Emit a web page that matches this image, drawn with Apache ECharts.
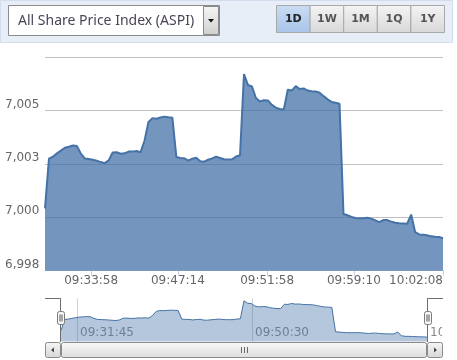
<!DOCTYPE html>
<html><head><meta charset="utf-8">
<script src="https://cdn.jsdelivr.net/npm/echarts@6/dist/echarts.min.js"></script>
<style>html,body{margin:0;padding:0;background:#fff}#c{width:457px;height:360px}</style>
</head><body><div id="c"></div>
<script>
// ---- data (ordinal points, equally spaced) ----
const aspiValues = [
  7000.72, 7003.05, 7003.14, 7003.30, 7003.43, 7003.56, 7003.61, 7003.67, 7003.64, 7003.29,
  7003.06, 7003.03, 7003.00, 7002.95, 7002.89, 7002.84, 7002.97, 7003.34, 7003.35, 7003.28,
  7003.30, 7003.38, 7003.38, 7003.41, 7003.35, 7003.89, 7004.77, 7004.95, 7004.92, 7004.98,
  7005.02, 7004.99, 7004.97, 7003.13, 7003.08, 7003.07, 7002.96, 7003.05, 7003.09, 7002.93,
  7002.91, 7003.00, 7003.06, 7003.14, 7003.08, 7003.02, 7003.01, 7003.02, 7003.15, 7003.21,
  7007.01, 7006.50, 7006.43, 7005.89, 7005.73, 7005.79, 7005.78, 7005.57, 7005.44, 7005.38,
  7005.35, 7006.28, 7006.24, 7006.45, 7006.31, 7006.34, 7006.24, 7006.21, 7006.20, 7006.14,
  7005.98, 7005.83, 7005.71, 7005.67, 7005.62, 7000.46, 7000.40, 7000.32, 7000.27, 7000.26,
  7000.26, 7000.28, 7000.24, 7000.16, 7000.08, 7000.17, 7000.17, 7000.10, 7000.05, 7000.02,
  7000.01, 7000.00, 7000.43, 6999.61, 6999.50, 6999.49, 6999.46, 6999.41, 6999.39, 6999.38,
  6999.32
];
const mainTickPos = [11.6, 33.4, 55.8, 77.6, 100];
const mainTickLabels = ['09:33:58', '09:47:14', '09:51:58', '09:59:10', '10:02:08'];
const navTickPos = [4.4, 52.2, 100];
const navTickLabels = ['09:31:45', '09:50:30', '10:02:08'];
const yMin = 6997.8, yMax = 7007.8, yStep = 2.5;
const navYMin = 6998.4, navYMax = 7007.5;
const selectorTitle = 'All Share Price Index (ASPI)';
const rangeButtons = ['1D', '1W', '1M', '1Q', '1Y'];
const activeRange = '1D';

// ---- helpers ----
const seriesData = aspiValues.map((v, i) => [i, v]);
const lastIdx = aspiValues.length - 1;
function labelAt(pos, labels) {
  return function (v) {
    for (let k = 0; k < pos.length; k++) if (Math.abs(pos[k] - v) < 0.01) return labels[k];
    return '';
  };
}
function fmtNum(v) {
  return String(Math.round(v)).replace(/\B(?=(\d{3})+(?!\d))/g, ',');
}
const FONT = 'DejaVu Sans';
const grad = (a, b) => ({type: 'linear', x: 0, y: 0, x2: 0, y2: 1, colorStops: [{offset: 0, color: a}, {offset: 1, color: b}]});

// ---- chrome (UI, not data) ----
const g = [];
g.push({type: 'rect', z: 50, shape: {x: 0.5, y: 0.5, width: 452, height: 42}, style: {fill: '#e8eef7', stroke: '#d3dded'}});
g.push({type: 'rect', z: 51, shape: {x: 8.5, y: 5.5, width: 211, height: 30}, style: {fill: '#fff', stroke: '#8c8c8c'}});
g.push({type: 'text', z: 52, style: {x: 18, y: 21, text: selectorTitle, fill: '#4b4457', font: '14px "Noto Sans"', verticalAlign: 'middle'}});
g.push({type: 'rect', z: 52, shape: {x: 203.5, y: 6.5, width: 15, height: 28}, style: {fill: grad('#f6f6f6', '#cfcfcf'), stroke: '#8a8a8a'}});
g.push({type: 'polygon', z: 53, shape: {points: [[208, 19], [214, 19], [211, 22.5]]}, style: {fill: '#111'}});
const bx0 = 276, bw = 33.6;
rangeButtons.forEach((b, k) => {
  const act = b === activeRange;
  g.push({type: 'rect', z: 51, shape: {x: bx0 + k * bw + 0.5, y: 5.5, width: bw, height: 27},
    style: {fill: act ? grad('#cadcf3', '#a8c4e9') : grad('#f4f4f4', '#d8d8d8'), stroke: '#a9a9a9'}});
  g.push({type: 'text', z: 52, style: {x: bx0 + k * bw + bw / 2 + 0.5, y: 19.5, text: b, fill: act ? '#222' : '#555',
    font: 'bold 11px "DejaVu Sans"', align: 'center', verticalAlign: 'middle'}});
});
// navigator outline, handles
g.push({type: 'polyline', z: 60, shape: {points: [[45, 298.5], [60.5, 298.5], [60.5, 342]]}, style: {stroke: '#6e6e6e', lineWidth: 1, fill: null}});
g.push({type: 'polyline', z: 60, shape: {points: [[427.5, 342], [427.5, 298.5], [443, 298.5]]}, style: {stroke: '#6e6e6e', lineWidth: 1, fill: null}});
// cover for clipped navigator label
g.push({type: 'rect', z: 59, shape: {x: 442, y: 300, width: 20, height: 41}, style: {fill: '#fff'}});
[57, 424].forEach(hx => {
  g.push({type: 'rect', z: 61, shape: {x: hx + 0.5, y: 311.5, width: 7, height: 13, r: 2}, style: {fill: '#f6f6f6', stroke: '#7a7a7a'}});
  g.push({type: 'line', z: 62, shape: {x1: hx + 3, y1: 314.5, x2: hx + 3, y2: 321.5}, style: {stroke: '#555', lineWidth: 1}});
  g.push({type: 'line', z: 62, shape: {x1: hx + 5, y1: 314.5, x2: hx + 5, y2: 321.5}, style: {stroke: '#555', lineWidth: 1}});
});
// scrollbar
g.push({type: 'rect', z: 55, shape: {x: 45.5, y: 342.5, width: 15, height: 15, r: 2}, style: {fill: grad('#f6f6f6', '#d6d6d6'), stroke: '#8a8a8a'}});
g.push({type: 'polygon', z: 56, shape: {points: [[51, 350], [54, 347.5], [54, 352.5]]}, style: {fill: '#444'}});
g.push({type: 'rect', z: 55, shape: {x: 61.5, y: 342.5, width: 365, height: 15, r: 2}, style: {fill: grad('#fafafa', '#dcdcdc'), stroke: '#8a8a8a'}});
[241.5, 244.5, 247.5].forEach(lx => g.push({type: 'line', z: 56, shape: {x1: lx, y1: 347, x2: lx, y2: 353}, style: {stroke: '#666', lineWidth: 1}}));
g.push({type: 'rect', z: 55, shape: {x: 427.5, y: 342.5, width: 15, height: 15, r: 2}, style: {fill: grad('#f6f6f6', '#d6d6d6'), stroke: '#8a8a8a'}});
g.push({type: 'polygon', z: 56, shape: {points: [[437, 350], [434, 347.5], [434, 352.5]]}, style: {fill: '#444'}});

const chart = echarts.init(document.getElementById('c'), null, {renderer: 'canvas'});
chart.setOption({
  animation: false,
  backgroundColor: '#fff',
  textStyle: {fontFamily: FONT},
  grid: [
    {left: 45, right: 14, top: 57.3, height: 213.4, containLabel: false, outerBoundsMode: 'none'},
    {left: 61, right: 30, top: 298.5, height: 43, containLabel: false, outerBoundsMode: 'none'}
  ],
  xAxis: [
    {type: 'value', gridIndex: 0, min: 0, max: lastIdx,
      axisLine: {show: true, lineStyle: {color: '#C0D0E0', width: 1}},
      axisTick: {show: true, length: 5, customValues: mainTickPos, lineStyle: {color: '#C0D0E0'}},
      axisLabel: {show: true, customValues: mainTickPos, formatter: labelAt(mainTickPos, mainTickLabels),
        color: '#666', fontSize: 12, fontFamily: FONT, margin: 4, alignMaxLabel: 'right', hideOverlap: false},
      splitLine: {show: false}},
    {type: 'value', gridIndex: 1, min: 0, max: lastIdx,
      axisLine: {show: false},
      axisTick: {show: false, customValues: navTickPos},
      axisLabel: {show: true, inside: true, customValues: navTickPos, formatter: labelAt(navTickPos, navTickLabels),
        color: '#888', fontSize: 12, fontFamily: FONT, align: 'left', alignMaxLabel: 'left', alignMinLabel: 'left',
        verticalAlign: 'bottom', margin: 3, padding: [0, 0, 0, 3], hideOverlap: false},
      splitLine: {show: true, lineStyle: {color: '#d0d0d0', width: 1}}}
  ],
  yAxis: [
    {type: 'value', gridIndex: 0, min: yMin, max: yMax, interval: yStep,
      axisLine: {show: false}, axisTick: {show: false},
      axisLabel: {show: true, formatter: v => (v > yMax - 0.01 ? '' : fmtNum(v)), color: '#666', fontSize: 12, fontFamily: FONT,
        align: 'left', verticalAlign: 'bottom', margin: 40},
      splitLine: {show: true, lineStyle: {color: '#C0C0C0', width: 1}}},
    {type: 'value', gridIndex: 1, min: navYMin, max: navYMax,
      axisLine: {show: false}, axisTick: {show: false}, axisLabel: {show: false}, splitLine: {show: false}}
  ],
  series: [
    {type: 'line', name: 'ASPI', xAxisIndex: 0, yAxisIndex: 0, data: seriesData, showSymbol: false, symbol: 'none',
      lineStyle: {color: '#4572A7', width: 2}, areaStyle: {color: '#4572A7', opacity: 0.75, origin: 'start'}, z: 2},
    {type: 'line', name: 'navigator', xAxisIndex: 1, yAxisIndex: 1, data: seriesData, showSymbol: false, symbol: 'none',
      lineStyle: {color: '#4572A7', width: 1}, areaStyle: {color: '#4572A7', opacity: 0.4, origin: 'start'}, z: 2}
  ],
  graphic: {elements: g}
});
</script>
</body></html>
